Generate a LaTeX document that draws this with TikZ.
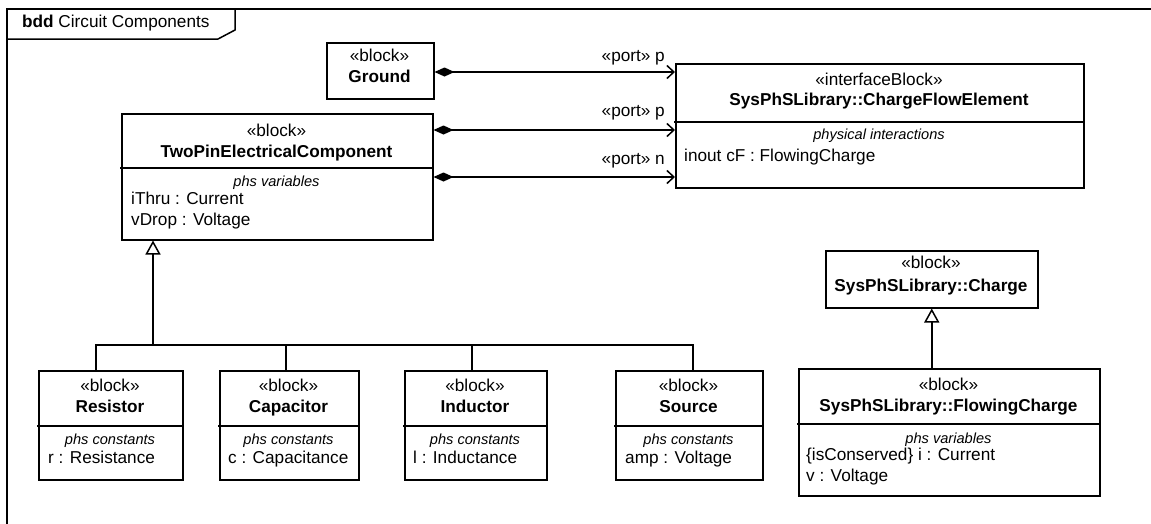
\documentclass[tikz,border=0pt]{standalone}
\usepackage{fontspec}
\setmainfont{Liberation Sans}
\usetikzlibrary{arrows.meta,calc}
\begin{document}
\begin{tikzpicture}[x=1pt,y=-1pt,
  ln/.style={line width=1.5pt, line cap=rect},
  box/.style={draw, line width=1.5pt, rectangle, inner sep=0pt, anchor=north west, fill=white},
  txt/.style={inner sep=0pt, font=\fontsize{17.2}{20}\selectfont},
  bold/.style={txt, font=\fontsize{17.2}{20}\selectfont\bfseries},
  hdr/.style={inner sep=0pt, font=\fontsize{14.6}{17}\selectfont\itshape},
  comp/.style={ln, line cap=butt, {Diamond[length=20pt,width=9pt]}-{Straight Barb[length=7pt,width=13pt]}},
  conn/.style={ln, line cap=butt},
  gen/.style={ln, line cap=butt, -{Triangle[length=14pt,width=15pt,fill=white]}}
]
\useasboundingbox (0,0) rectangle (1151,523);
\fill[white] (0,0) rectangle (1151,523);
% frame
\draw[ln] (7,523) -- (7,9) -- (1151,9);
\draw[ln] (7,39) -- (218,39) -- (235,30) -- (235,9);
\node[txt, anchor=mid west] (title) at (22,25) {\textbf{bdd} Circuit Components};

% Ground
\node[box, minimum width=107pt, minimum height=56pt] (ground) at (326,42) {};
\node[txt, anchor=mid] (groundst) at (379.5,59) {«block»};
\node[bold, anchor=mid] (groundnm) at (379.5,80) {Ground};

% TwoPinElectricalComponent
\node[box, minimum width=311pt, minimum height=126pt] (tpc) at (121,113) {};
\draw[ln] (tpc.west |- 0,168) -- (tpc.east |- 0,168);
\node[txt, anchor=mid] (tpcst) at (276.5,134) {«block»};
\node[bold, anchor=mid] (tpcnm) at (276.5,155) {TwoPinElectricalComponent};
\node[hdr, anchor=mid] (tpchd) at (276.5,184) {phs variables};
\node[txt, anchor=mid west] (tpca1) at (131,202) {iThru : Current};
\node[txt, anchor=mid west] (tpca2) at (131,223) {vDrop : Voltage};

% ChargeFlowElement
\node[box, minimum width=408pt, minimum height=124pt] (cfe) at (675,63) {};
\draw[ln] (cfe.west |- 0,122) -- (cfe.east |- 0,122);
\node[txt, anchor=mid] (cfest) at (879,83) {«interfaceBlock»};
\node[bold, anchor=mid] (cfenm) at (879,103) {SysPhSLibrary::ChargeFlowElement};
\node[hdr, anchor=mid] (cfehd) at (879,137) {physical interactions};
\node[txt, anchor=mid west] (cfea1) at (684,159) {inout cF : FlowingCharge};

% port connectors
\coordinate (y1) at (0,72);
\coordinate (y2) at (0,130);
\coordinate (y3) at (0,177);
\draw[comp] (ground.east |- y1) -- (cfe.west |- y1);
\draw[comp] (tpc.east |- y2) -- (cfe.west |- y2);
\draw[comp] (tpc.east |- y3) -- (cfe.west |- y3);
\node[txt, anchor=mid east] (lp1) at (665,59) {«port» p};
\node[txt, anchor=mid east] (lp2) at (665,114) {«port» p};
\node[txt, anchor=mid east] (lp3) at (665,162) {«port» n};

% bottom blocks
\node[box, minimum width=144pt, minimum height=109pt] (res) at (38,370) {};
\draw[ln] (res.west |- 0,426) -- (res.east |- 0,426);
\node[txt, anchor=mid] (resst) at (110,389) {«block»};
\node[bold, anchor=mid] (resnm) at (110,410) {Resistor};
\node[hdr, anchor=mid] (reshd) at (110,442) {phs constants};
\node[txt, anchor=mid west] (resa) at (48,461) {r : Resistance};

\node[box, minimum width=139pt, minimum height=109pt] (cap) at (219,370) {};
\draw[ln] (cap.west |- 0,426) -- (cap.east |- 0,426);
\node[txt, anchor=mid] (capst) at (288.5,389) {«block»};
\node[bold, anchor=mid] (capnm) at (288.5,410) {Capacitor};
\node[hdr, anchor=mid] (caphd) at (288.5,442) {phs constants};
\node[txt, anchor=mid west] (capa) at (228,461) {c : Capacitance};

\node[box, minimum width=142pt, minimum height=109pt] (ind) at (404,370) {};
\draw[ln] (ind.west |- 0,426) -- (ind.east |- 0,426);
\node[txt, anchor=mid] (indst) at (475,389) {«block»};
\node[bold, anchor=mid] (indnm) at (475,410) {Inductor};
\node[hdr, anchor=mid] (indhd) at (475,442) {phs constants};
\node[txt, anchor=mid west] (inda) at (413,461) {l : Inductance};

\node[box, minimum width=147pt, minimum height=109pt] (src) at (615,370) {};
\draw[ln] (src.west |- 0,426) -- (src.east |- 0,426);
\node[txt, anchor=mid] (srcst) at (688.5,389) {«block»};
\node[bold, anchor=mid] (srcnm) at (688.5,410) {Source};
\node[hdr, anchor=mid] (srchd) at (688.5,442) {phs constants};
\node[txt, anchor=mid west] (srca) at (625,461) {amp : Voltage};

% generalization tree
\coordinate (b1) at (96,345);
\coordinate (b2) at (286,345);
\coordinate (b3) at (472,345);
\coordinate (b4) at (693,345);
\coordinate (bt) at (153,345);
\draw[conn] (res.north -| b1) -- (b1) -- (b4) -- (src.north -| b4);
\draw[conn] (cap.north -| b2) -- (b2);
\draw[conn] (ind.north -| b3) -- (b3);
\draw[gen] (bt) -- (tpc.south -| bt);

% Charge
\node[box, minimum width=212pt, minimum height=57pt] (charge) at (825,250) {};
\node[txt, anchor=mid] (chst) at (931,266) {«block»};
\node[bold, anchor=mid] (chnm) at (931,289) {SysPhSLibrary::Charge};

% FlowingCharge
\node[box, minimum width=301pt, minimum height=127pt] (fc) at (798,368) {};
\draw[ln] (fc.west |- 0,424) -- (fc.east |- 0,424);
\node[txt, anchor=mid] (fcst) at (948.5,388) {«block»};
\node[bold, anchor=mid] (fcnm) at (948.5,409) {SysPhSLibrary::FlowingCharge};
\node[hdr, anchor=mid] (fchd) at (948.5,441) {phs variables};
\node[txt, anchor=mid west] (fca1) at (806,458) {\{isConserved\} i : Current};
\node[txt, anchor=mid west] (fca2) at (806,479) {v : Voltage};

\draw[gen] (fc.north -| charge.south) -- (charge.south);
\end{tikzpicture}
\end{document}
